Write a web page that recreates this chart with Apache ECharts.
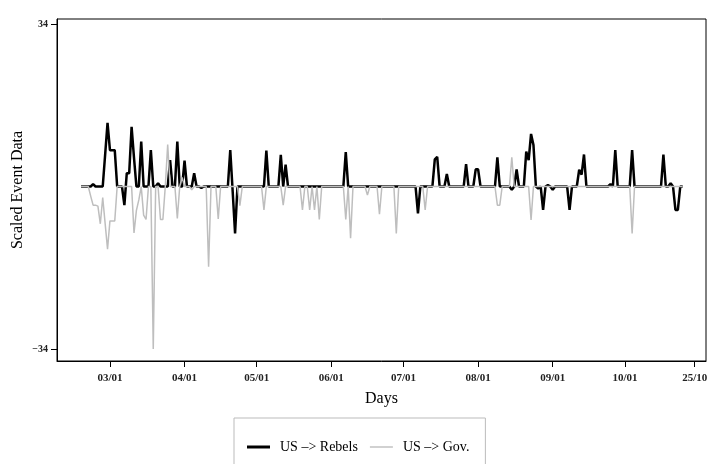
<!DOCTYPE html>
<html><head><meta charset="utf-8">
<script src="https://cdn.jsdelivr.net/npm/echarts@6/dist/echarts.min.js"></script>
<style>html,body{margin:0;padding:0;background:#fff}#c{width:710px;height:464px}</style>
</head><body><div id="c"></div>
<script>
const seriesNames = ['US –> Rebels', 'US –> Gov.'];
// day index 0 = 17 Feb, last day = 25 Oct (index 250); days not listed are 0
const nDays = 251;
const rebelsDays = [5, 10, 11, 12, 13, 14, 18, 19, 20, 21, 22, 25, 29, 32, 37, 40, 43, 47, 50, 62, 63, 64, 77, 83, 85, 110, 140, 147, 148, 152, 160, 164, 165, 173, 179, 181, 185, 186, 187, 188, 190, 192, 194, 196, 203, 207, 208, 209, 220, 222, 229, 242, 245, 247, 248];
const rebelsVals = [0.5, 6.6, 13.3, 7.6, 7.6, 7.6, -3.9, 2.8, 2.8, 12.5, 6, 9.4, 7.6, 0.7, 5.5, 9.4, 5.4, 2.8, -0.3, 7.6, -1, -9.8, 7.5, 6.6, 4.6, 7.2, -5.6, 5.7, 6.2, 2.6, 4.7, 3.6, 3.6, 6.1, -0.7, 3.6, 7.3, 5.5, 11, 8.7, -0.4, -4.9, 0.3, -0.7, -4.9, 3.5, 2.5, 6.7, 0.5, 7.6, 7.6, 6.7, 0.7, -4.9, -4.9];
const govDays = [4, 5, 6, 7, 8, 9, 10, 11, 12, 13, 14, 22, 23, 24, 26, 27, 30, 33, 34, 36, 40, 42, 46, 53, 57, 66, 76, 84, 92, 95, 97, 99, 110, 112, 119, 124, 131, 143, 173, 174, 179, 187, 229];
const govVals = [-2, -3.9, -3.9, -4.1, -7.8, -2.3, -7.7, -13.1, -7.2, -7.2, -7.2, -9.7, -5, -2.8, -6, -6.9, -34, -6.9, -6.9, 8.8, -6.7, 1.9, -0.7, -16.8, -6.8, -4, -4.9, -3.9, -4.9, -4.9, -4.9, -6.9, -6.9, -10.8, -1.8, -5.8, -9.8, -4.9, -3.9, -3.9, 6.1, -7, -9.8];
const tickDays = [12, 43, 73, 104, 134, 165, 196, 226, 255];
const tickLabels = ['03/01', '04/01', '05/01', '06/01', '07/01', '08/01', '09/01', '10/01', '25/10'];
const yTicks = [-34, 34];

function build(days, vals) {
  const m = new Map();
  days.forEach((d, i) => m.set(d, vals[i]));
  const out = [];
  for (let d = 0; d < nDays; d++) out.push([d, m.has(d) ? m.get(d) : 0]);
  return out;
}

const FONT = 'Liberation Serif';
const chart = echarts.init(document.getElementById('c'), null, {renderer: 'canvas'});
chart.setOption({
  animation: false,
  backgroundColor: '#fff',
  textStyle: {fontFamily: FONT},
  grid: {left: 57, right: 4, top: 19, bottom: 103, containLabel: false, outerBoundsMode: 'none',
    show: true, borderColor: '#000', borderWidth: 1, backgroundColor: 'transparent'},
  xAxis: {
    type: 'value', min: -10, max: 259.7,
    name: 'Days', nameLocation: 'middle', nameGap: 30, nameMoveOverlap: false,
    nameTextStyle: {fontFamily: FONT, fontSize: 16, color: '#000'},
    axisLine: {show: true, onZero: false, lineStyle: {color: '#000', width: 1}},
    axisTick: {show: true, inside: false, customValues: tickDays, length: 6, lineStyle: {color: '#000'}},
    axisLabel: {show: true, customValues: tickDays, margin: 12, fontFamily: FONT, fontSize: 11, fontWeight: 'bold', color: '#222',
      formatter: v => tickLabels[tickDays.indexOf(v)] || ''},
    splitLine: {show: false}
  },
  yAxis: {
    type: 'value', min: -36.51, max: 35.05,
    name: 'Scaled Event Data', nameLocation: 'middle', nameGap: 31, nameMoveOverlap: false,
    nameTextStyle: {fontFamily: FONT, fontSize: 16, color: '#000'},
    axisLine: {show: true, onZero: false, lineStyle: {color: '#000', width: 1}},
    axisTick: {show: true, inside: false, customValues: yTicks, length: 6, lineStyle: {color: '#000'}},
    axisLabel: {show: true, customValues: yTicks, margin: 9, fontFamily: FONT, fontSize: 10, fontWeight: 'bold', color: '#222',
      formatter: v => (v < 0 ? '\u2212' + Math.abs(v) : String(v))},
    splitLine: {show: false}
  },
  legend: {
    left: 234, top: 418, orient: 'horizontal',
    borderColor: '#bbb', borderWidth: 1, borderRadius: 0,
    padding: [22, 16, 20, 13],
    itemWidth: 23, itemHeight: 10, itemGap: 12,
    textStyle: {fontFamily: FONT, fontSize: 14, color: '#000', padding: [0, 0, 0, 5]},
    data: [
      {name: seriesNames[0], icon: 'path://M0,0M23,10M0,3.5L23,3.5L23,6.5L0,6.5Z', itemStyle: {color: '#000'}},
      {name: seriesNames[1], icon: 'path://M0,0M23,10M0,4.3L23,4.3L23,5.7L0,5.7Z', itemStyle: {color: '#bebebe'}}
    ]
  },
  series: [
    {name: seriesNames[0], type: 'line', data: build(rebelsDays, rebelsVals), symbol: 'none',
      lineStyle: {color: '#000', width: 2.5}, itemStyle: {color: '#000'}, z: 2},
    {name: seriesNames[1], type: 'line', data: build(govDays, govVals), symbol: 'none',
      lineStyle: {color: '#bebebe', width: 1.5}, itemStyle: {color: '#bebebe'}, z: 3}
  ]
});
</script>
</body></html>
